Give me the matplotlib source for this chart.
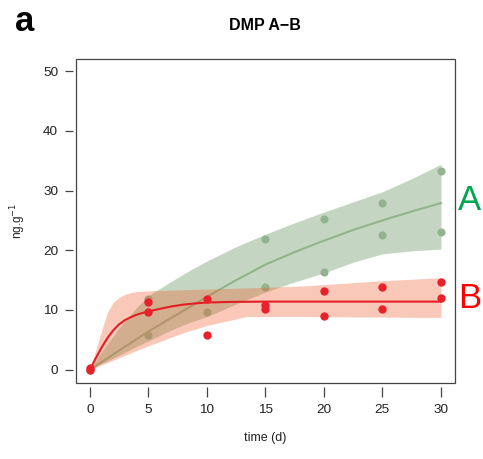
import numpy as np
import matplotlib.pyplot as plt
from matplotlib.patches import Rectangle

plt.rcParams['font.family'] = ['Liberation Sans', 'DejaVu Sans']

# measured points (time in days, ng/g)
tA = [0, 5, 5, 10, 15, 15, 20, 20, 25, 25, 30, 30]
yA = [0, 5.85, 11.9, 9.7, 21.9, 13.9, 25.2, 16.3, 28.0, 22.5, 33.2, 23.0]
tB = [0, 0, 5, 5, 10, 10, 15, 15, 20, 20, 25, 25, 30, 30]
yB = [0, 0.2, 11.3, 9.7, 11.9, 5.85, 10.75, 10.2, 13.2, 9.0, 13.8, 10.2, 14.7, 12.0]

# fitted curves
fitA_t = [0, 2.5, 5, 7.5, 10, 12.5, 15, 17.5, 20, 22.5, 25, 27.5, 30]
fitA_y = [0, 3.2, 6.4, 9.3, 12.2, 15.0, 17.6, 19.7, 21.6, 23.4, 25.0, 26.5, 27.9]
fitB_t = [0, 0.5, 1, 1.5, 2, 2.5, 3, 3.5, 4, 4.5, 5, 6, 7, 8, 9, 10, 12, 15, 20, 25, 30]
fitB_y = [0, 1.9, 3.7, 5.3, 6.6, 7.6, 8.3, 8.8, 9.2, 9.5, 9.75, 10.2, 10.6, 10.9, 11.1, 11.25, 11.35, 11.4, 11.4, 11.4, 11.4]

# confidence bands
bandA_t = [0, 1, 2.5, 4, 5, 6.8, 8.5, 10, 12.5, 15, 17.5, 20, 22.5, 25, 27.5, 30]
bandA_hi = [0, 3.0, 7.0, 10.4, 12.4, 14.6, 16.6, 18.2, 20.6, 22.7, 24.6, 26.4, 28.1, 29.8, 32.0, 34.4]
bandA_lo = [0, 1.0, 2.4, 3.9, 4.8, 6.5, 7.9, 8.9, 11.0, 13.0, 14.7, 16.2, 18.0, 19.4, 19.9, 20.2]
bandB_t = [0, 0.5, 1, 1.5, 2, 2.5, 3, 3.5, 4, 5, 8, 10, 13.4, 15, 18, 22, 25, 30]
bandB_hi = [0, 3.2, 6.5, 9.6, 11.3, 12.1, 12.6, 12.9, 13.1, 13.2, 13.4, 13.5, 13.7, 13.8, 14.0, 14.5, 14.9, 15.4]
bandB_lo = [0, 0.4, 0.8, 1.2, 1.6, 2.0, 2.4, 2.8, 3.2, 4.0, 6.2, 7.4, 8.9, 8.9, 8.9, 8.85, 8.8, 8.75]

xticks = [0, 5, 10, 15, 20, 25, 30]
yticks = [0, 10, 20, 30, 40, 50]

fig = plt.figure(figsize=(4.83, 4.59), dpi=100)
ax = fig.add_axes([0.157, 0.166, 0.785, 0.705])

# A layer
ax.fill_between(bandA_t, bandA_lo, bandA_hi, color='#568a4e', alpha=0.35, lw=0)
ax.plot(fitA_t, fitA_y, color='#93b38d', lw=1.5)
ax.scatter(tA, yA, s=34, color='#93b28f', lw=0, zorder=3)

# B layer on top
ax.fill_between(bandB_t, bandB_lo, bandB_hi, color='#f05a28', alpha=0.33, lw=0, zorder=4)
ax.plot(fitB_t, fitB_y, color='#e31e24', lw=1.5, zorder=5)
ax.scatter(tB, yB, s=36, color='#e8212b', lw=0, zorder=6)

ax.set_xlim(-1.2, 31.2)
ax.set_ylim(-2.2, 52)
ax.set_xticks(xticks)
ax.set_yticks(yticks)

# R style: box plus detached ticks
for s in ['top', 'right']:
    ax.spines[s].set_visible(False)
ax.spines['bottom'].set_position(('outward', 3))
ax.spines['left'].set_position(('outward', 2))
for s in ['left', 'bottom']:
    ax.spines[s].set_color('none')
ax.add_patch(Rectangle((0, 0), 1, 1, transform=ax.transAxes, fill=False,
                       ec='#444444', lw=0.9, clip_on=False, zorder=10))
ax.tick_params(direction='out', width=0.9, color='#444444',
               labelsize=9.7, labelcolor='#222222', pad=5)
ax.tick_params(axis='x', length=7)
ax.tick_params(axis='y', length=5.8)

ax.set_xlabel('time (d)', fontsize=9, labelpad=12, color='#222222')
ax.set_ylabel('ng.g$^{-1}$', fontsize=8.5, labelpad=11, color='#222222')
ax.set_title('DMP A\u2212B', fontsize=11.5, fontweight='bold', pad=21)

fig.text(15 / 483, 1 - 31 / 459, 'a', fontsize=25, fontweight='bold', ha='left', va='baseline')
fig.text(470 / 483, 1 - 200 / 459, 'A', fontsize=25, color='#00a651', ha='center', va='center')
fig.text(470 / 483, 1 - 298 / 459, 'B', fontsize=25, color='#ff0000', ha='center', va='center')

plt.savefig('out.png', dpi=100)
